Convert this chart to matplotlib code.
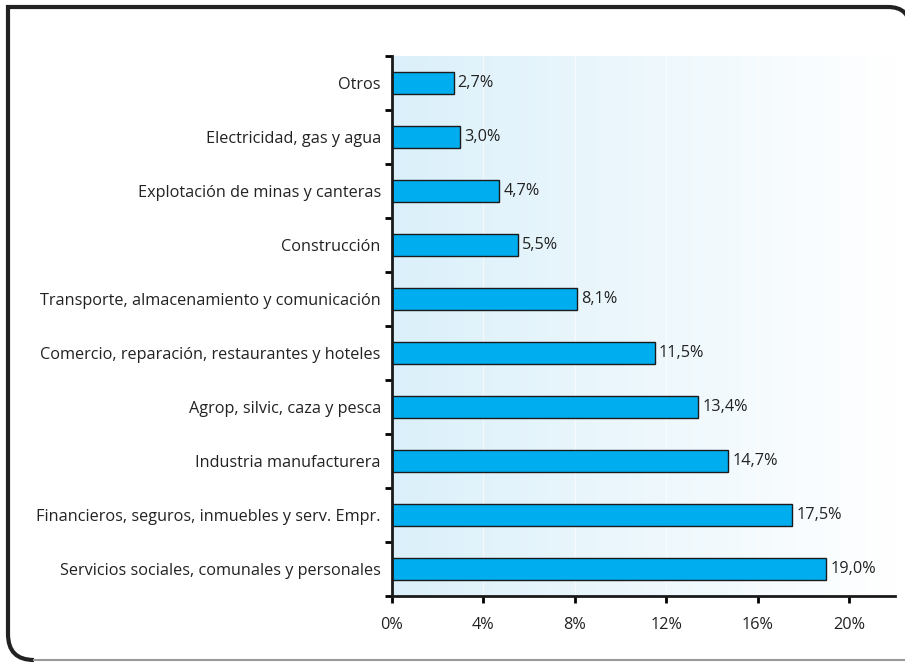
import numpy as np
import matplotlib.pyplot as plt
from matplotlib.path import Path
from matplotlib.patches import PathPatch
from matplotlib.colors import LinearSegmentedColormap

# Participación por actividad económica
sectores = [
    "Servicios sociales, comunales y personales",
    "Financieros, seguros, inmuebles y serv. Empr.",
    "Industria manufacturera",
    "Agrop, silvic, caza y pesca",
    "Comercio, reparación, restaurantes y hoteles",
    "Transporte, almacenamiento y comunicación",
    "Construcción",
    "Explotación de minas y canteras",
    "Electricidad, gas y agua",
    "Otros",
]
valores = [19.0, 17.5, 14.7, 13.4, 11.5, 8.1, 5.5, 4.7, 3.0, 2.7]
ticks_x = [0, 4, 8, 12, 16, 20]

plt.rcParams['font.family'] = ['Open Sans', 'DejaVu Sans']

fig = plt.figure(figsize=(9.05, 6.63), dpi=100)

# marco: esquina sup. derecha e inf. izquierda redondeadas
bg = fig.add_axes([0, 0, 1, 1], zorder=-1)
bg.set_xlim(0, 905)
bg.set_ylim(0, 663)
bg.axis('off')
r1, r2 = 22, 26
verts = [(910, 560), (910, 656 - r1), (910, 656), (910 - r1, 656),
         (8, 656), (8, 3 + r2), (8, 3), (8 + r2, 3)]
codes = [Path.MOVETO, Path.LINETO, Path.CURVE3, Path.CURVE3,
         Path.LINETO, Path.LINETO, Path.CURVE3, Path.CURVE3]
bg.add_patch(PathPatch(Path(verts, codes), fill=False, edgecolor='#222222',
                       lw=3.0, capstyle='butt'))
bg.plot([8 + r2, 905], [3, 3], color='#9a9a9a', lw=1.5)

ax = fig.add_axes([0.433, 0.101, 0.556, 0.8145])

# fondo degradado
ax.set_xlim(0, 22)
ax.set_ylim(-0.5, len(sectores) - 0.5)
grad = np.linspace(0, 1, 256).reshape(1, -1)
cmap = LinearSegmentedColormap.from_list('fondo', ['#dbf0fa', '#ffffff'])
ax.imshow(grad, extent=[0, 22, -0.5, len(sectores) - 0.5], aspect='auto',
          cmap=cmap, zorder=0)
for t in ticks_x[1:]:
    ax.axvline(t, color='white', lw=1, alpha=0.6, zorder=1)

y = np.arange(len(sectores))
ax.barh(y, valores, height=0.42, color='#00aeef', edgecolor='#1a1a1a',
        linewidth=1, zorder=2)
for yi, v in zip(y, valores):
    ax.text(v + 0.18, yi, f"{v:.1f}%".replace('.', ','), va='center',
            ha='left', fontsize=11.7, color='#222222', zorder=3)

ax.set_yticks(y)
ax.set_yticklabels(sectores, fontsize=11.7, color='#222222')
ax.set_yticks(np.arange(-0.5, len(sectores), 1), minor=True)
ax.tick_params(axis='y', which='major', length=0, pad=8)
ax.tick_params(axis='y', which='minor', length=5, width=2, direction='out')

ax.set_xticks(ticks_x)
ax.set_xticklabels([f"{t}%" for t in ticks_x], fontsize=11.7, color='#222222')
ax.tick_params(axis='x', length=5, width=2, pad=10)

for s in ['top', 'right']:
    ax.spines[s].set_visible(False)
for s in ['left', 'bottom']:
    ax.spines[s].set_linewidth(2)
    ax.spines[s].set_color('#1a1a1a')

fig.savefig('out.png', dpi=100)
